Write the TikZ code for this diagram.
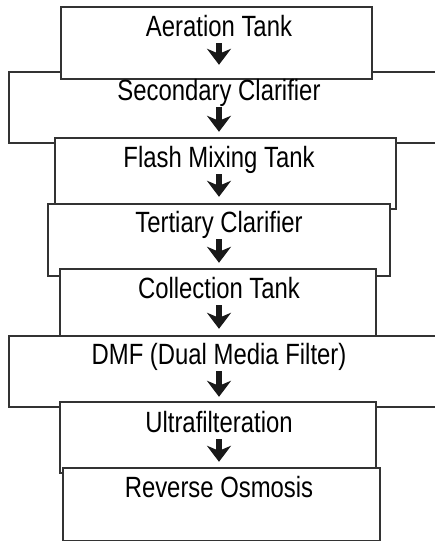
\documentclass[tikz,border=0pt]{standalone}
\usepackage{fontspec}
\setmainfont{Liberation Sans}[FakeStretch=0.815]
\usetikzlibrary{arrows.meta}
\begin{document}
\begin{tikzpicture}[x=1pt,y=-1pt,
		tank/.style={draw=black!80, line width=1.8pt, fill=white, inner sep=0pt},
		stage/.style={anchor=base, inner sep=0pt, text height=21pt, text depth=0pt,
			font=\fontsize{29.3}{32}\selectfont},
		flow/.style={line width=6pt, black!90, -{Stealth[length=16pt,width=24pt,inset=5pt]},
			shorten <=7pt, shorten >=14pt}]
			\useasboundingbox (0,0) rectangle (435,542);
			% tanks, back to front
			\foreach \name/\xa/\ya/\xb/\yb in {secbox/9/72/448/143, aerbox/61/7/372/79,
				flabox/55/138/396/209, terbox/48/204/390/276, colbox/60/269/376/338,
				dmfbox/9/336/448/407, ultbox/60/402/376/473, rosbox/63/468/380/540.5}
			\node[tank, minimum width={\xb-\xa}, minimum height={\yb-\ya}]
				(\name) at ({(\xa+\xb)/2},{(\ya+\yb)/2}) {};
			
			% stage names
			\foreach \name/\y/\txt in {aer/36/Aeration Tank, sec/100/Secondary Clarifier,
				fla/167/Flash Mixing Tank, ter/232/Tertiary Clarifier, col/298/Collection Tank,
				dmf/364/DMF (Dual Media Filter), ult/432/Ultrafilteration, ros/497/Reverse Osmosis}
			\node[stage] (\name) at (219,\y) {\txt};
			
			% flow between stages
			\foreach \a/\b in {aer/sec, sec/fla, fla/ter, ter/col, col/dmf, dmf/ult, ult/ros}
			\draw[flow] (\a.south) -- (\b.north);
			
		\end{tikzpicture}
\end{document}
